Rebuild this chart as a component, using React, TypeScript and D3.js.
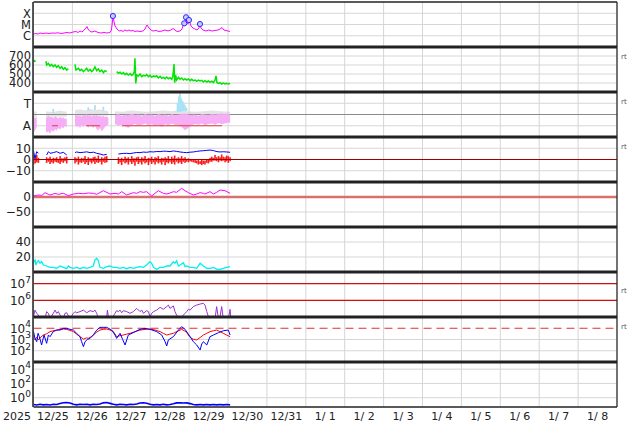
import React from 'react';
import * as d3 from 'd3';

const W = 634, H = 424;
const X0 = 33.5, X1 = 617;
const TOTAL_HOURS = 15 * 24;

const dayLabels = ['12/25','12/26','12/27','12/28','12/29','12/30','12/31','1/ 1','1/ 2','1/ 3','1/ 4','1/ 5','1/ 6','1/ 7','1/ 8'];
const yearLabel = '2025';

// Panel 1: X-ray flux [hour, W/m2]
const xrayData: [number, number][] = [[0,1.43e-6],[1.5,1.58e-6],[2.8,1.43e-6],[4.0,1.75e-6],[5.9,1.58e-6],[7.7,1.75e-6],[9.6,1.58e-6],[11.4,1.75e-6],[13.3,1.69e-6],[15.1,1.83e-6],[17.0,1.58e-6],[18.8,1.75e-6],[20.7,1.95e-6],[22.5,1.75e-6],[24.4,2.15e-6],[26.2,2.39e-6],[27.5,1.95e-6],[28.7,2.64e-6],[29.9,2.15e-6],[31.2,3.24e-6],[32.4,4.9e-6],[33.0,6.6e-6],[33.6,3.98e-6],[34.9,2.39e-6],[36.1,2.15e-6],[37.9,2.64e-6],[39.8,1.95e-6],[41.6,1.75e-6],[43.5,1.95e-6],[45.3,1.75e-6],[47.2,1.95e-6],[48.1,3.24e-6],[49.1,5.7e-5],[49.7,1.67e-5],[50.3,7.4e-6],[51.5,3.98e-6],[52.8,2.64e-6],[54.0,2.93e-6],[55.2,2.39e-6],[56.4,3.24e-6],[57.7,2.64e-6],[58.9,3.24e-6],[60.2,2.64e-6],[61.4,2.93e-6],[62.6,2.39e-6],[63.9,2.64e-6],[65.7,2.39e-6],[67.6,2.64e-6],[68.8,3.98e-6],[70.0,9.0e-6],[71.3,4.9e-6],[72.5,3.24e-6],[73.7,2.64e-6],[75.6,2.93e-6],[77.4,2.39e-6],[79.3,2.64e-6],[81.1,3.24e-6],[83.0,2.64e-6],[84.8,3.24e-6],[86.1,4.4e-6],[87.3,3.24e-6],[88.5,2.39e-6],[90.4,2.64e-6],[91.6,3.98e-6],[92.2,7.4e-6],[92.9,1.36e-5],[93.5,9.0e-6],[94.1,4.6e-5],[94.7,2.05e-5],[95.3,1.1e-5],[95.9,2.5e-5],[96.6,1.36e-5],[97.2,7.4e-6],[98.4,4.9e-6],[99.6,3.98e-6],[100.9,3.24e-6],[102.1,4.9e-6],[102.7,1.1e-5],[103.3,4.9e-6],[104.6,3.24e-6],[106.4,2.64e-6],[108.3,3.24e-6],[110.1,2.64e-6],[112.0,2.93e-6],[113.8,3.24e-6],[115.1,3.98e-6],[116.3,5.4e-6],[117.5,3.24e-6],[118.8,2.93e-6],[120.0,2.64e-6],[121.2,2.39e-6]];
const flareMarks: [number, number][] = [[49.0,5.7e-5],[93.0,1.27e-5],[94.1,4.4e-5],[95.9,2.5e-5],[102.7,1.1e-5]];

// Panel 2: solar wind speed [hour, km/s]
const speedData: [number, number | null][] = [[0,640],[0.6,650],[1.2,636],[1.5,null],
[7.7,644],[8.1,600],[9.2,618],[10.2,589],[11.2,607],[12.2,581],[13.3,600],[14.3,574],[15.3,593],[16.4,563],[17.4,581],[18.4,552],[19.4,570],[20.5,544],[21.5,560],[22,null],
[25.6,607],[26.2,544],[27.7,563],[28.7,537],[29.7,552],[30.8,526],[31.8,544],[32.8,563],[33.8,533],[34.9,552],[35.9,526],[36.9,544],[37.9,578],[39.0,537],[40.0,556],[41.0,526],[42.1,544],[43.1,515],[44.1,537],[45.2,526],[46,null],
[51.3,526],[52.4,507],[53.4,519],[54.4,500],[55.4,515],[56.5,493],[57.5,507],[58.5,489],[59.6,504],[60.6,485],[61.6,500],[62.2,526],[62.6,674],[63.1,396],[63.7,489],[64.7,478],[65.7,500],[66.8,470],[67.8,485],[68.8,478],[69.8,493],[70.9,470],[71.9,485],[72.9,463],[74.0,478],[75.0,470],[76.0,481],[77.0,456],[78.1,474],[79.1,452],[80.1,463],[81.2,448],[82.2,467],[83.2,448],[84.2,459],[85.3,441],[85.9,470],[86.3,526],[86.7,611],[87.1,404],[87.7,489],[88.3,433],[89.4,463],[90.4,441],[91.4,456],[92.5,433],[93.5,448],[94.5,433],[95.6,444],[96.6,426],[97.6,441],[98.6,426],[99.7,433],[100.7,419],[101.7,433],[102.8,422],[103.8,430],[104.8,411],[105.8,426],[106.9,411],[107.9,422],[108.9,407],[110.0,419],[111.0,404],[112.0,433],[112.6,478],[113.2,404],[114.1,396],[115.1,404],[116.1,389],[117.1,400],[118.2,389],[119.2,396],[120.2,389],[121.3,396]];

// Panel 3: sector-like scatter bands [hour, top, bottom]
const pinkBand: [number, number | null, number | null][] = [[0,-0.15,-1.6],[1.0,-0.3,-1.4],[2.0,-0.2,-1.1],[2.5,null,null],
[7.7,-0.3,-1.6],[9.2,-0.1,-1.5],[10.2,-0.25,-1.7],[11.2,-0.2,-1.4],[12.2,-0.3,-1.55],[13.3,-0.15,-1.3],[14.3,-0.25,-1.45],[15.3,-0.35,-1.2],[16.4,-0.2,-1.35],[17.4,-0.3,-1.1],[18.4,-0.25,-1.25],[19.4,-0.4,-1.0],[20.5,-0.3,-1.15],[21,null,null],
[25.6,-0.1,-0.9],[26.6,0.0,-1.1],[27.7,-0.15,-1.0],[28.7,-0.05,-1.2],[29.7,-0.2,-0.95],[30.8,0.0,-1.1],[31.8,-0.1,-0.9],[32.8,0.05,-1.0],[33.8,-0.1,-1.15],[34.9,-0.05,-0.95],[35.9,-0.2,-1.05],[36.9,0.0,-1.2],[37.9,-0.1,-1.0],[39.0,-0.05,-1.3],[40.0,-0.15,-1.4],[41.0,-0.1,-1.2],[42.1,-0.2,-1.5],[43.1,-0.1,-1.3],[44.1,-0.25,-1.1],[45.2,-0.15,-0.95],[46.2,-0.3,-0.9],[47,null,null],
[50.3,-0.05,-0.85],[52.4,0.05,-1.0],[54.4,-0.1,-0.9],[56.5,0.0,-1.05],[58.5,-0.05,-1.2],[60.6,0.1,-0.95],[62.6,-0.05,-0.85],[64.7,0.0,-1.0],[66.8,-0.1,-0.9],[68.8,0.05,-0.8],[70.9,-0.05,-0.95],[72.9,0.0,-0.85],[75.0,-0.1,-1.0],[77.0,0.05,-0.9],[79.1,-0.05,-1.1],[81.2,0.0,-0.85],[83.2,-0.1,-0.95],[85.3,0.05,-0.8],[87.1,-0.05,-0.9],[89.4,0.0,-1.0],[91.4,0.05,-1.1],[93.5,0.1,-1.4],[95.6,0.0,-1.2],[97.6,-0.05,-0.95],[99.7,0.0,-0.85],[101.7,-0.1,-0.9],[103.8,0.05,-0.8],[105.8,0.0,-0.95],[107.9,-0.05,-0.85],[110.0,0.05,-0.8],[112.0,0.0,-0.9],[114.1,0.05,-0.75],[116.1,0.1,-0.85],[118.2,0.05,-0.8],[120.2,0.1,-0.7],[121.3,0.0,-0.75]];
const grayBand: [number, number | null, number | null][] = [[0,0.3,-0.2],[2,0.25,-0.2],[2.5,null,null],[7.7,0.3,-0.2],[12,0.2,-0.2],[16,0.35,-0.2],[20.5,0.25,-0.2],[21,null,null],[25.6,0.4,-0.1],[29,0.45,-0.1],[32,0.35,-0.1],[35,0.5,-0.1],[38,0.4,-0.1],[41,0.45,-0.1],[44,0.35,-0.1],[46.2,0.3,-0.1],[47,null,null],[50.3,0.3,-0.05],[55,0.25,-0.05],[60,0.35,-0.05],[65,0.3,-0.05],[70,0.25,-0.05],[75,0.3,-0.05],[80,0.35,-0.05],[85,0.3,-0.05],[90,0.4,-0.05],[95,0.3,-0.05],[100,0.25,-0.05],[105,0.3,-0.05],[110,0.35,-0.05],[115,0.3,-0.05],[121.3,0.25,-0.05]];
const blueSpikes: [number, number, number][] = [[12.2,0.5,0.1],[33.8,0.64,0.34],[37.9,0.84,0.4],[43.1,0.7,0.35],[88.9,1.0,0.25],[89.6,1.6,0.25],[90.4,1.88,0.25],[91.2,1.45,0.25],[92.0,1.2,0.3],[92.8,1.0,0.3],[93.6,0.8,0.3],[94.4,0.6,0.3]];
const redLevelSegs: [number, number][] = [[11.4,15.1],[32.4,41.0],[54.6,116.3]];

// Panel 4: IMF Bt and Bz range
const btData: [number, number | null][] = [[0,7.6],[0.9,1.0],[2.0,7.0],[3.0,5.5],[3.5,null],[8.1,4.0],[9.2,7.0],[10.2,5.5],[12.2,6.1],[14.3,7.0],[16.4,5.5],[18.4,6.4],[20.5,4.0],[21,null],[25.6,6.1],[26.6,6.7],[28.7,6.1],[30.8,6.4],[32.8,6.8],[34.9,6.1],[37.0,6.5],[39.0,5.5],[41.0,4.9],[43.1,4.0],[45.2,4.6],[46,null],[52.4,4.9],[55.4,5.4],[57.5,5.5],[59.6,5.2],[61.6,5.8],[63.7,6.2],[65.7,6.1],[67.8,6.6],[69.8,6.4],[71.9,6.9],[74.0,6.7],[76.0,7.1],[78.1,7.0],[80.1,7.4],[82.2,7.3],[84.2,7.0],[86.3,7.6],[88.3,7.2],[90.4,6.7],[92.5,6.3],[94.5,6.1],[96.6,6.5],[98.6,6.7],[100.7,7.2],[102.8,7.6],[104.8,7.8],[106.9,8.1],[108.9,8.4],[111.0,7.9],[113.2,7.0],[115.1,6.7],[117.1,6.9],[119.2,6.7],[121.3,6.4]];
const bzRange: [number, number, number][] = [[0,3.5,-4.5],[1.0,2.0,-3.5],[2.0,4.0,-2.5],[3.0,1.5,-3.0],
[8.1,2.0,-3.0],[9.2,1.0,-2.0],[10.2,2.5,-4.0],[11.2,0.5,-2.5],[12.2,1.5,-3.5],[13.3,1.0,-2.0],[14.3,2.0,-2.5],[15.3,0.5,-3.0],[16.4,3.0,-4.0],[17.4,1.0,-2.0],[18.4,1.0,-3.0],[19.4,2.0,-1.5],[20.5,2.5,-3.5],
[25.6,2.0,-3.5],[26.6,1.0,-2.0],[27.7,2.5,-4.5],[28.7,0.5,-2.5],[29.7,1.5,-3.0],[30.8,1.0,-2.0],[31.8,3.0,-4.0],[32.8,0.5,-2.5],[33.8,2.0,-4.9],[34.9,1.0,-2.0],[35.9,1.0,-3.5],[36.9,2.0,-2.0],[37.9,2.5,-4.0],[39.0,1.0,-2.5],[40.0,3.5,-3.0],[41.0,0.5,-2.0],[42.1,2.0,-4.5],[43.1,1.0,-2.0],[44.1,2.5,-3.0],[45.2,3.0,-2.5],
[52.4,2.0,-4.0],[53.4,0.5,-2.5],[54.4,1.5,-5.0],[55.4,0.5,-2.0],[56.5,2.5,-3.5],[57.5,1.0,-2.5],[58.5,2.0,-4.5],[59.6,0.5,-2.0],[60.6,3.0,-4.0],[61.6,1.0,-2.5],[62.6,1.0,-5.5],[63.7,2.0,-2.0],[64.7,2.5,-4.0],[65.7,0.5,-2.5],[66.8,2.0,-4.5],[67.8,1.0,-2.0],[68.8,3.0,-3.5],[69.8,0.5,-2.5],[70.9,1.5,-5.0],[71.9,1.0,-2.0],[72.9,2.5,-4.0],[74.0,0.5,-2.5],[75.0,2.0,-4.5],[76.0,1.5,-2.0],[77.0,3.0,-3.5],[78.1,0.5,-2.5],[79.1,1.5,-4.5],[80.1,1.0,-2.0],[81.2,2.0,-5.0],[82.2,1.0,-2.5],[83.2,3.0,-3.5],[84.2,0.5,-2.0],[85.3,2.5,-4.0],[86.3,1.0,-2.5],[87.1,3.5,-4.5],[88.3,1.0,-2.0],[89.4,2.0,-3.5],[90.4,1.0,-2.5],[91.4,3.0,-4.0],[92.5,1.0,-2.0],[93.5,2.0,-3.0],[94.5,0.5,-2.0],[95.6,1.0,-2.5],[96.6,0.0,-1.5],[97.6,0.5,-2.0],[98.6,-0.5,-2.5],[99.7,0.0,-3.0],[100.7,-1.0,-3.5],[101.7,-0.5,-4.5],[102.8,-1.5,-4.0],[103.8,0.0,-5.0],[104.8,-1.0,-4.0],[105.8,-1.0,-4.5],[106.9,0.0,-3.0],[107.9,0.5,-3.5],[108.9,1.5,-2.0],[110.0,2.5,-2.0],[111.0,1.5,-1.0],[112.0,4.0,-1.0],[113.0,2.0,-1.5],[114.1,3.0,-2.5],[115.1,2.0,-1.0],[116.1,4.5,-1.5],[117.1,2.5,-1.0],[118.2,2.0,-2.5],[119.2,3.5,-1.5],[120.2,3.0,-3.0],[121.3,2.0,-1.5]];

// Panel 5: Dst-like index [hour, nT]
const dstData: [number, number][] = [[0,3.3],[2.0,5.6],[4.0,6.7],[5.0,4.4],[7.1,14.4],[9.2,8.9],[10.2,6.7],[12.2,10],[13.3,12.2],[15.3,8.9],[18.4,12.2],[21.5,4.4],[24.6,10],[27.7,12.2],[30.8,11],[33.8,13.3],[36.9,12.2],[39.0,8.9],[43.1,21],[47.2,10],[50.3,12.2],[52.4,10],[54.4,17.8],[57.5,6.7],[61.6,14.4],[63.7,12.2],[65.7,17.8],[67.8,15.6],[69.8,17.8],[72.9,3.3],[77.0,21],[80.1,12.2],[82.2,10],[84.2,13.3],[86.3,17.8],[88.3,15.6],[91.4,28.9],[93.5,21],[95.6,14.4],[98.6,6.7],[100.7,10],[102.8,14.4],[104.8,12.2],[105.8,10],[108.9,17.8],[111.0,10],[113.0,15.6],[115.1,23.3],[118.2,21],[121.3,12.2]];

// Panel 6: density [hour, /cc]
const densData: [number, number][] = [[0,12.4],[1.0,16],[1.5,9.3],[2.0,12.4],[3.0,15.1],[4.0,11.6],[5.0,13.8],[6.1,9.3],[8.1,8.0],[10.2,6.2],[12.2,6.2],[14.3,4.9],[16.4,8.0],[18.4,6.2],[20.5,4.4],[21.5,8.0],[22.5,6.2],[24.6,4.9],[26.6,6.2],[28.7,4.4],[30.8,6.2],[32.8,4.9],[34.9,6.2],[36.9,8.0],[37.9,16],[39.0,18.2],[40.0,15.1],[41.0,6.2],[43.1,4.9],[45.2,7.1],[47.2,8.0],[49.3,6.2],[51.3,6.2],[53.4,4.9],[55.4,6.2],[57.5,4.4],[59.6,6.2],[61.6,4.9],[63.7,6.2],[65.7,7.1],[67.8,6.2],[69.8,9.3],[71.9,13.8],[72.9,11.6],[74.0,6.2],[76.0,3.6],[78.1,6.2],[80.1,6.2],[82.2,8.0],[84.2,8.0],[86.3,13.8],[87.3,11.6],[88.3,15.1],[89.4,8.0],[90.4,9.3],[92.5,12.4],[93.5,7.1],[94.5,8.0],[96.6,6.2],[98.6,6.2],[100.7,4.9],[102.8,11.6],[104.8,8.0],[106.9,4.9],[108.9,4.9],[111.0,6.2],[113.2,3.6],[115.1,3.6],[117.1,4.9],[119.2,6.2],[121.3,7.1]];

// Panel 7: electron flux [hour, flux]
const electronData: [number, number][] = [[0,1.05e5],[0.9,2.6e5],[2.0,1.66e5],[3.0,1.3e5],[4.0,8e4],[7.1,8e4],[8.1,2.1e5],[9.2,1.66e5],[10.2,8e4],[12.2,1.66e5],[13.3,2.6e5],[14.3,1.66e5],[15.3,2.1e5],[16.4,1.3e5],[18.4,8e4],[19.4,1.66e5],[20.5,1.8e5],[22.5,8e4],[24.6,1.66e5],[25.6,2.1e5],[26.6,1.8e5],[28.7,2.1e5],[30.8,2.6e5],[32.8,1.8e5],[34.9,2.4e5],[36.9,2.1e5],[37.9,2.6e5],[39.0,1.66e5],[40.0,8e4],[45.2,1.05e5],[45.6,2.6e5],[46.2,1.05e5],[48.2,8e4],[50.3,1.66e5],[51.3,2.4e5],[52.4,2.1e5],[53.4,2.6e5],[54.4,1.8e5],[55.4,2.4e5],[57.5,2.1e5],[59.6,1.66e5],[61.6,2.1e5],[63.7,3.3e5],[65.7,2.1e5],[66.8,2.6e5],[67.8,1.66e5],[69.8,2.4e5],[70.9,2.1e5],[71.9,1.05e5],[72.9,1.66e5],[74.0,2.1e5],[76.0,2.6e5],[78.1,3.8e5],[80.1,2.9e5],[82.2,4.2e5],[83.2,5.2e5],[84.2,3.3e5],[86.3,4.6e5],[87.3,2.1e5],[88.3,1.3e5],[90.4,8e4],[93.5,1.66e5],[94.5,2.1e5],[95.6,2.9e5],[96.6,2.6e5],[98.6,4.2e5],[100.7,5.2e5],[102.8,6.0e5],[104.8,6.6e5],[105.8,5.2e5],[106.9,2.1e5],[107.9,1.05e5],[108.9,8e4],[112.0,8e4],[113.0,4.2e5],[114.1,8e4],[115.1,1.05e5],[116.1,4.2e5],[117.1,8e4],[120.2,8e4],[121.3,2.9e5],[121.7,8e4]];

// Panel 8: two flux series [hour, value]
const fluxBlue: [number, number][] = [[0,5000],[0.9,1260],[2.0,640],[2.8,3550],[3.6,1780],[5.0,325],[6.5,2500],[8.1,455],[9.2,2500],[10.2,1780],[12.2,5000],[14.3,6900],[16.4,6900],[18.4,9800],[20.5,9800],[22.5,8000],[24.6,6900],[26.6,3550],[28.7,1780],[29.7,640],[30.8,230],[31.8,640],[33.2,1000],[34.9,1260],[36.9,2500],[39.0,6900],[41.0,12000],[43.1,12000],[45.2,12000],[48.2,6900],[50.3,2500],[51.3,1260],[53.4,3550],[55.0,1000],[56.5,325],[57.5,900],[58.5,2500],[61.6,4050],[65.7,8000],[68.8,9800],[71.9,8000],[76.0,5000],[79.1,2500],[81.2,640],[82.2,265],[83.2,910],[86.3,1780],[89.4,6900],[91.4,13800],[93.5,8000],[96.6,1780],[98.6,640],[100.7,325],[102.8,117],[103.8,400],[104.8,640],[106.9,325],[108.9,1780],[111.0,2500],[114.1,4050],[117.1,6000],[120.2,6900],[121.3,2500]];
const fluxRed: [number, number][] = [[0,1260],[0.9,1000],[2.0,1600],[3.0,900],[4.0,1400],[6.1,2500],[8.1,3200],[10.2,5000],[13.3,6500],[16.4,7900],[18.4,8500],[20.5,7900],[22.5,6500],[24.6,5000],[26.6,3000],[28.7,1780],[30.8,1100],[32.8,1400],[33.8,1260],[35.9,1900],[36.9,2500],[39.0,4500],[41.0,6900],[43.1,8000],[45.2,8500],[47.2,7000],[49.3,5000],[51.3,1780],[53.4,2200],[55.4,2500],[57.5,3000],[59.6,3550],[62.6,5000],[65.7,6900],[68.8,7900],[71.9,8500],[75.0,7000],[78.1,5000],[80.1,3500],[82.2,2500],[84.2,3000],[86.3,3550],[88.3,5000],[91.4,7900],[93.0,6000],[94.5,4200],[96.0,2000],[97.6,1260],[99.0,1000],[100.7,910],[102.8,1500],[104.8,2500],[106.9,3550],[108.9,5000],[111.0,6000],[113.0,6900],[115.1,5000],[117.1,3550],[119.2,2500],[121.3,1780]];

// Panel 9: proton flux [hour, pfu]
const protonData: [number, number][] = [[0,0.11],[2,0.095],[4,0.12],[6.1,0.1],[8.1,0.11],[10.2,0.095],[12.2,0.12],[14.3,0.11],[16.4,0.15],[18.4,0.2],[20.5,0.21],[22.5,0.18],[24.6,0.12],[26.6,0.1],[28.7,0.12],[30.8,0.11],[32.8,0.12],[34.9,0.1],[36.9,0.12],[39.0,0.11],[41.0,0.13],[43.1,0.19],[45.2,0.21],[47.2,0.16],[49.3,0.12],[51.3,0.1],[53.4,0.12],[55.4,0.11],[57.5,0.1],[59.6,0.12],[61.6,0.11],[63.7,0.13],[65.7,0.18],[67.8,0.2],[69.8,0.17],[71.9,0.12],[74.0,0.1],[76.0,0.11],[78.1,0.1],[80.1,0.12],[82.2,0.1],[84.2,0.11],[86.3,0.14],[88.3,0.19],[90.4,0.2],[92.5,0.18],[94.5,0.19],[96.6,0.15],[98.6,0.11],[100.7,0.1],[102.8,0.11],[104.8,0.1],[106.9,0.11],[108.9,0.1],[111.0,0.11],[113.0,0.1],[115.1,0.11],[117.1,0.1],[119.2,0.11],[121.3,0.1]];

const PANEL_TOPS = [2, 47, 92, 137, 182, 227, 272, 317, 362];
const PH = 45;
const FONT = "'DejaVu Sans', Verdana, sans-serif";

const x = d3.scaleLinear().domain([0, TOTAL_HOURS]).range([X0, X1]);
const y1 = d3.scaleLog().domain([1e-7, 1e-3]).range([47, 2]);
const y2 = d3.scaleLinear().domain([300, 800]).range([92, 47]);
const y3 = d3.scaleLinear().domain([-2, 2]).range([137, 92]);
const y4 = d3.scaleLinear().domain([-20, 20]).range([182, 137]);
const y5 = d3.scaleLinear().domain([-100, 50]).range([227, 182]);
const y6 = d3.scaleLinear().domain([0, 60]).range([272, 227]);
const y7 = d3.scaleLog().domain([1e5, 5e7]).range([317, 272]);
const y8 = d3.scaleLog().domain([1e1, 1e5]).range([362, 317]);
const y9 = d3.scaleLog().domain([0.05, 1e5]).range([407, 362]);

function mkLine(ys: any) {
  return d3.line<any>().defined((d: any) => d[1] != null).x((d: any) => x(d[0])).y((d: any) => ys(d[1]));
}
function mkArea(ys: any) {
  return d3.area<any>().defined((d: any) => d[1] != null).x((d: any) => x(d[0])).y0((d: any) => ys(d[2])).y1((d: any) => ys(d[1]));
}

const GRID = '#d6d6d6';

function HLine({ y, stroke = GRID, w = 1, dash }: { y: number; stroke?: string; w?: number; dash?: string }) {
  return <line x1={X0} x2={X1} y1={y} y2={y} stroke={stroke} strokeWidth={w} strokeDasharray={dash} />;
}

function Label({ y, text, exp, size = 12 }: { y: number; text: string; exp?: string; size?: number }) {
  return (
    <text x={31} y={y + size * 0.37} textAnchor="end" fontSize={size} fill="#222" fontFamily={FONT}>
      {text}
      {exp !== undefined && <tspan fontSize={9} dy={-5.5}>{exp}</tspan>}
    </text>
  );
}

export default function App() {
  const days = d3.range(0, 16).map((k) => k * 24);
  return (
    <svg width={W} height={H} style={{ position: 'absolute', left: 0, top: 0, background: '#fff' }}>
      <defs>
        {PANEL_TOPS.map((t, i) => (
          <clipPath id={`cp${i}`} key={i}>
            <rect x={X0} y={t} width={X1 - X0} height={PH} />
          </clipPath>
        ))}
      </defs>
      <rect x={0} y={0} width={W} height={H} fill="#fff" />

      {/* vertical grid */}
      {days.map((h) => (
        <line key={h} x1={x(h)} x2={x(h)} y1={2} y2={407} stroke={GRID} strokeWidth={1} />
      ))}

      {/* horizontal grid lines */}
      {[1e-4, 1e-5, 1e-6].map((v) => <HLine key={'g1' + v} y={y1(v)} />)}
      {[700, 600, 500, 400].map((v) => <HLine key={'g2' + v} y={y2(v)} />)}
      {[1, -1].map((v) => <HLine key={'g3' + v} y={y3(v)} />)}
      {[10, -10].map((v) => <HLine key={'g4' + v} y={y4(v)} />)}
      <HLine y={y5(-50)} />
      {[40, 20].map((v) => <HLine key={'g6' + v} y={y6(v)} />)}
      {[1e3, 1e2].map((v) => <HLine key={'g8' + v} y={y8(v)} />)}
      {[1e4, 1e2, 1e0].map((v) => <HLine key={'g9' + v} y={y9(v)} />)}

      {/* Panel 1 */}
      <g clipPath="url(#cp0)">
        <path d={mkLine(y1)(xrayData) || ''} fill="none" stroke="#ff00ff" strokeWidth={1} />
        {flareMarks.map((d, i) => (
          <circle key={i} cx={x(d[0])} cy={y1(d[1])} r={2.6} fill="#c8c8ff" stroke="#2a2aff" strokeWidth={1} />
        ))}
      </g>

      {/* Panel 2 */}
      <g clipPath="url(#cp1)">
        <path d={mkLine(y2)(speedData) || ''} fill="none" stroke="#00e600" strokeWidth={1.5} />
      </g>

      {/* Panel 3 */}
      <g clipPath="url(#cp2)">
        <path d={mkArea(y3)(grayBand) || ''} fill="#cccccc" opacity={0.55} />
        <HLine y={y3(0)} stroke="#8a8a8a" w={1.2} />
        <path d={mkArea(y3)(pinkBand) || ''} fill="#f5a8f5" opacity={0.92} />
        {blueSpikes.map((d, i) => (
          <rect key={i} x={x(d[0]) - 0.9} width={1.8} y={y3(d[1])} height={y3(d[2]) - y3(d[1])} fill="#a8e2f6" />
        ))}
        {redLevelSegs.map((s, i) => (
          <line key={i} x1={x(s[0])} x2={x(s[1])} y1={y3(-1)} y2={y3(-1)} stroke="#e43c3c" strokeWidth={1} />
        ))}
      </g>

      {/* Panel 4 */}
      <g clipPath="url(#cp3)">
        {bzRange.map((d, i) => (
          <rect key={i} x={x(d[0]) - 0.8} width={1.6} y={y4(d[1])} height={Math.max(0.5, y4(d[2]) - y4(d[1]))} fill="#ff1a1a" />
        ))}
        <HLine y={y4(0)} stroke="#a00000" w={1} />
        <path d={mkLine(y4)(btData) || ''} fill="none" stroke="#0000ff" strokeWidth={1} />
      </g>

      {/* Panel 5 */}
      <g clipPath="url(#cp4)">
        <HLine y={y5(0)} stroke="#d87070" w={2.4} />
        <path d={mkLine(y5)(dstData) || ''} fill="none" stroke="#ff00ff" strokeWidth={1} />
      </g>

      {/* Panel 6 */}
      <g clipPath="url(#cp5)">
        <path d={mkLine(y6)(densData) || ''} fill="none" stroke="#00eeee" strokeWidth={1.3} />
      </g>

      {/* Panel 7 */}
      <g clipPath="url(#cp6)">
        {[1e7, 1e6].map((v) => <HLine key={'r7' + v} y={y7(v)} stroke="#cc1111" w={1.2} />)}
        <path d={mkLine(y7)(electronData) || ''} fill="none" stroke="#9a30d0" strokeWidth={1} />
      </g>

      {/* Panel 8 */}
      <g clipPath="url(#cp7)">
        <HLine y={y8(1e4)} stroke="#e03030" w={1.2} dash="8,5" />
        <path d={mkLine(y8)(fluxRed) || ''} fill="none" stroke="#ff0000" strokeWidth={1} />
        <path d={mkLine(y8)(fluxBlue) || ''} fill="none" stroke="#0000ff" strokeWidth={1} />
      </g>

      {/* Panel 9 */}
      <g clipPath="url(#cp8)">
        <path d={mkLine(y9)(protonData) || ''} fill="none" stroke="#0000ff" strokeWidth={1.6} />
      </g>

      {/* frame */}
      <line x1={X0} x2={X1} y1={2} y2={2} stroke="#222" strokeWidth={1.5} />
      {PANEL_TOPS.slice(1).map((t) => (
        <line key={t} x1={X0} x2={X1} y1={t} y2={t} stroke="#222" strokeWidth={3} />
      ))}
      <line x1={X0} x2={X1} y1={407} y2={407} stroke="#222" strokeWidth={1.5} />
      <line x1={33} x2={33} y1={2} y2={407} stroke="#222" strokeWidth={1.5} />
      <line x1={X1} x2={X1} y1={2} y2={407} stroke="#222" strokeWidth={1.2} />

      {/* y labels */}
      <Label y={y1(1e-4)} text="X" size={11.5} />
      <Label y={y1(1e-5)} text="M" size={11.5} />
      <Label y={y1(1e-6)} text="C" size={11.5} />
      {[700, 600, 500, 400].map((v) => <Label key={'l2' + v} y={y2(v)} text={String(v)} size={11.5} />)}
      <Label y={y3(1)} text="T" />
      <Label y={y3(-1)} text="A" />
      {[10, 0, -10].map((v) => <Label key={'l4' + v} y={y4(v)} text={v < 0 ? '\u2212' + Math.abs(v) : String(v)} />)}
      {[0, -50].map((v) => <Label key={'l5' + v} y={y5(v)} text={v < 0 ? '\u2212' + Math.abs(v) : String(v)} />)}
      {[40, 20].map((v) => <Label key={'l6' + v} y={y6(v)} text={String(v)} />)}
      {[7, 6].map((e) => <Label key={'l7' + e} y={y7(Math.pow(10, e))} text="10" exp={String(e)} />)}
      {[4, 3, 2].map((e) => <Label key={'l8' + e} y={y8(Math.pow(10, e))} text="10" exp={String(e)} />)}
      {[4, 2, 0].map((e) => <Label key={'l9' + e} y={y9(Math.pow(10, e))} text="10" exp={String(e)} />)}

      {/* right-side markers */}
      {[56, 101.5, 146.5, 290.5, 326.5].map((yy) => (
        <text key={yy} x={621} y={yy + 2.5} fontSize={7} fill="#555" fontFamily={FONT}>rt</text>
      ))}

      {/* x labels */}
      <text x={31} y={420} textAnchor="end" fontSize={11} fill="#222" fontFamily={FONT}>{yearLabel}</text>
      {dayLabels.map((t, i) => (
        <text key={t} x={x(i * 24 + 12)} y={420} textAnchor="middle" fontSize={11} fill="#222" fontFamily={FONT} style={{ whiteSpace: 'pre' }}>{t}</text>
      ))}
    </svg>
  );
}
